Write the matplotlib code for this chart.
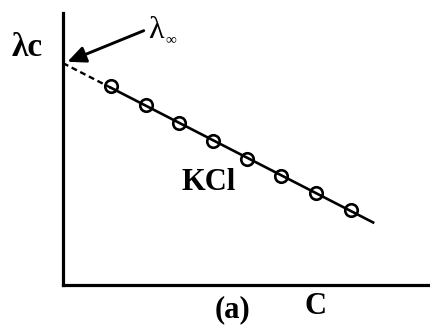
"""Kohlrausch plot: molar conductivity vs concentration for KCl."""

import matplotlib.pyplot as plt
import numpy as np

# (arbitrary units)
conc = [1.3, 2.25, 3.15, 4.1, 5.0, 5.95, 6.9, 7.85]
lambda_c = [7.3, 6.6, 5.95, 5.3, 4.65, 4.0, 3.4, 2.75]
line_end = 8.45

plt.rcParams["font.family"] = ["Liberation Serif", "DejaVu Serif"]

fig = plt.figure(figsize=(4.3, 3.25), dpi=100)
ax = fig.add_axes([63 / 430, 1 - 285 / 325, 1 - 63 / 430, (285 - 13) / 325])
ax.set_xlim(0, 10)
ax.set_ylim(0, 10)

slope, icept = np.polyfit(conc, lambda_c, 1)
xs = np.array([conc[0], line_end])
ax.plot(xs, icept + slope * xs, color="black", lw=1.9, zorder=2)
xd = np.array([0.0, conc[0]])
ax.plot(xd, icept + slope * xd, color="black", lw=1.7, ls=(0, (2.5, 1.6)), zorder=2)
ax.plot(conc, lambda_c, "o", ms=9, mfc="none", mec="black", mew=1.9, zorder=3)

ax.annotate("", xy=(0.12, icept + 0.05), xytext=(2.2, 9.35),
            arrowprops=dict(arrowstyle="-|>,head_length=1.1,head_width=0.5",
                            color="black", lw=2.1, shrinkA=0, shrinkB=0))

ax.text(3.98, 3.75, "KCl", fontsize=22, fontweight="bold", ha="center", va="center")

for side in ("top", "right"):
    ax.spines[side].set_visible(False)
for side in ("left", "bottom"):
    ax.spines[side].set_linewidth(2.3)
ax.set_xticks([])
ax.set_yticks([])

fig.text(12 / 430, 1 - 56 / 325, "λc", fontsize=24, fontweight="bold",
         ha="left", va="baseline")
fig.text(148 / 430, 1 - 38 / 325, "λ", fontsize=23, ha="left", va="baseline")
fig.text(165 / 430, 1 - 43 / 325, "∞", fontsize=11, ha="left", va="baseline")
fig.text(233 / 430, 1 - 310 / 325, "(a)", fontsize=22, fontweight="bold",
         ha="center", va="center")
fig.text(316 / 430, 1 - 306 / 325, "C", fontsize=22, fontweight="bold",
         ha="center", va="center")

fig.savefig("out.png", dpi=100)
